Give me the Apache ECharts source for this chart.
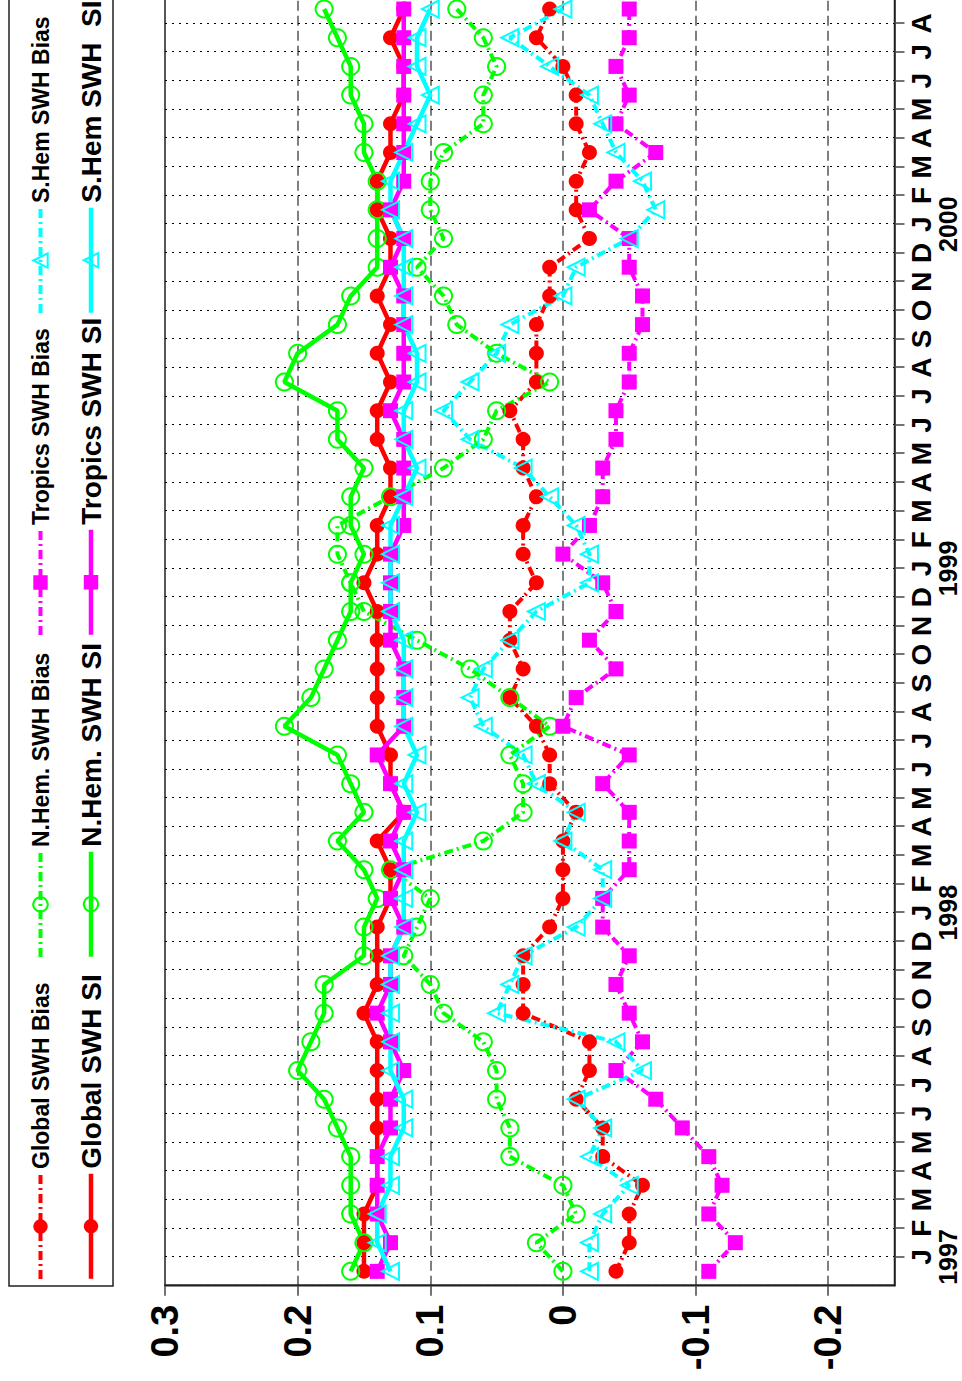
<!DOCTYPE html>
<html>
<head>
<meta charset="utf-8">
<script src="https://cdn.jsdelivr.net/npm/echarts@6/dist/echarts.min.js"></script>
<style>
  html, body { margin: 0; padding: 0; background: #fff; overflow: hidden; width: 962px; height: 1381px; }
  /* The chart is laid out in landscape and turned a quarter turn counter-clockwise. */
  #chart {
    position: absolute; left: 0; top: 0;
    width: 1500px; height: 962px;
    transform-origin: 0 0;
    transform: translate(0px, 1381px) rotate(-90deg);
  }
</style>
</head>
<body>
<div id="chart"></div>
<script>
// Monthly wave-height statistics, one sample per month (45 samples),
// plotted midway between the monthly ticks.
const monthInitials = ['J', 'F', 'M', 'A', 'M', 'J', 'J', 'A', 'S', 'O', 'N', 'D'];
const firstYear = 1997;
const lastLabelledMonth = 43;            // Aug 2000
const valueTicks = [-0.2, -0.1, 0, 0.1, 0.2, 0.3];

const globalBias = [-0.04, -0.05, -0.05, -0.06, -0.03, -0.03, -0.01, -0.02, -0.02,
  0.03, 0.03, 0.03, 0.01, 0.00, 0.00, 0.00, -0.01, 0.01, 0.01,
  0.02, 0.04, 0.03, 0.04, 0.04, 0.02, 0.03, 0.03, 0.02, 0.03,
  0.03, 0.04, 0.02, 0.02, 0.02, 0.01, 0.01, -0.02, -0.01, -0.01,
  -0.02, -0.01, -0.01, 0.00, 0.02, 0.01];
const globalSI = [0.15, 0.15, 0.15, 0.14, 0.14, 0.14, 0.14, 0.14, 0.14,
  0.15, 0.14, 0.14, 0.14, 0.13, 0.13, 0.14, 0.12, 0.13, 0.13,
  0.14, 0.14, 0.14, 0.14, 0.14, 0.15, 0.14, 0.14, 0.13, 0.13,
  0.14, 0.14, 0.13, 0.14, 0.13, 0.14, 0.13, 0.13, 0.14, 0.14,
  0.13, 0.13, 0.12, 0.12, 0.13, 0.12];
const nhemBias = [0.00, 0.02, -0.01, 0.00, 0.04, 0.04, 0.05, 0.05, 0.06,
  0.09, 0.10, 0.12, 0.11, 0.10, 0.13, 0.06, 0.03, 0.03, 0.04,
  0.01, 0.04, 0.07, 0.11, 0.15, 0.16, 0.17, 0.17, 0.13, 0.09,
  0.06, 0.05, 0.01, 0.05, 0.08, 0.09, 0.11, 0.09, 0.10, 0.10,
  0.09, 0.06, 0.06, 0.05, 0.06, 0.08];
const nhemSI = [0.16, 0.15, 0.16, 0.16, 0.16, 0.17, 0.18, 0.20, 0.19,
  0.18, 0.18, 0.15, 0.15, 0.14, 0.15, 0.17, 0.15, 0.16, 0.17,
  0.21, 0.19, 0.18, 0.17, 0.16, 0.16, 0.15, 0.16, 0.16, 0.15,
  0.17, 0.17, 0.21, 0.20, 0.17, 0.16, 0.14, 0.14, 0.14, 0.14,
  0.15, 0.15, 0.16, 0.16, 0.17, 0.18];
const tropicsBias = [-0.11, -0.13, -0.11, -0.12, -0.11, -0.09, -0.07, -0.04, -0.06,
  -0.05, -0.04, -0.05, -0.03, -0.03, -0.05, -0.05, -0.05, -0.03, -0.05,
  0.00, -0.01, -0.04, -0.02, -0.04, -0.03, 0.00, -0.02, -0.03, -0.03,
  -0.04, -0.04, -0.05, -0.05, -0.06, -0.06, -0.05, -0.05, -0.02, -0.04,
  -0.07, -0.04, -0.05, -0.04, -0.05, -0.05];
const tropicsSI = [0.14, 0.13, 0.14, 0.14, 0.14, 0.13, 0.13, 0.12, 0.13,
  0.14, 0.13, 0.13, 0.12, 0.13, 0.12, 0.13, 0.12, 0.13, 0.14,
  0.12, 0.12, 0.12, 0.13, 0.13, 0.13, 0.13, 0.12, 0.12, 0.12,
  0.12, 0.13, 0.12, 0.12, 0.12, 0.12, 0.13, 0.12, 0.13, 0.12,
  0.12, 0.12, 0.12, 0.12, 0.12, 0.12];
const shemBias = [-0.02, -0.02, -0.03, -0.05, -0.02, -0.03, -0.01, -0.06, -0.04,
  0.05, 0.04, 0.03, -0.01, -0.03, -0.03, 0.00, -0.01, 0.02, 0.03,
  0.06, 0.07, 0.06, 0.04, 0.02, -0.02, -0.02, -0.01, 0.01, 0.03,
  0.07, 0.09, 0.07, 0.05, 0.04, 0.00, -0.01, -0.05, -0.07, -0.06,
  -0.04, -0.03, -0.02, 0.01, 0.04, 0.00];
const shemSI = [0.13, 0.14, 0.14, 0.13, 0.13, 0.12, 0.12, 0.13, 0.13,
  0.13, 0.13, 0.13, 0.12, 0.12, 0.12, 0.12, 0.11, 0.12, 0.11,
  0.12, 0.12, 0.12, 0.12, 0.13, 0.13, 0.13, 0.13, 0.12, 0.11,
  0.12, 0.12, 0.11, 0.11, 0.12, 0.12, 0.12, 0.12, 0.13, 0.13,
  0.12, 0.11, 0.10, 0.11, 0.11, 0.10];

const seriesNames = [
  'Global SWH Bias', 'Global SWH SI',
  'N.Hem. SWH Bias', 'N.Hem. SWH SI',
  'Tropics SWH Bias', 'Tropics SWH SI',
  'S.Hem SWH Bias', 'S.Hem SWH  SI'
];

const RED = '#ff0000', GREEN = '#00ff00', MAGENTA = '#ff00ff', CYAN = '#00ffff';
const DASH_DOT = [9, 4, 2, 4];
const BIAS_WIDTH = 4, SI_WIDTH = 4.5;

// Sample i sits half a month before tick i (tick 0 = January 1997).
function toPoints(values) {
  return values.map((v, i) => [i - 0.5, v]);
}

function lineStyleFor(color, bias) {
  return { color: color, width: bias ? BIAS_WIDTH : SI_WIDTH, type: bias ? DASH_DOT : 'solid' };
}
function itemStyleFor(color, hollow) {
  return hollow
    ? { color: 'rgba(0,0,0,0)', borderColor: color, borderWidth: 2 }
    : { color: color, borderWidth: 0 };
}

const seriesSpecs = [
  { values: globalBias, color: RED, bias: true, symbol: 'circle', size: 15, hollow: false },
  { values: globalSI, color: RED, bias: false, symbol: 'circle', size: 15, hollow: false },
  { values: nhemBias, color: GREEN, bias: true, symbol: 'circle', size: 17, hollow: true },
  { values: nhemSI, color: GREEN, bias: false, symbol: 'circle', size: 17, hollow: true },
  { values: tropicsBias, color: MAGENTA, bias: true, symbol: 'rect', size: 15, hollow: false },
  { values: tropicsSI, color: MAGENTA, bias: false, symbol: 'rect', size: 15, hollow: false },
  { values: shemBias, color: CYAN, bias: true, symbol: 'triangle', size: 17, hollow: true },
  { values: shemSI, color: CYAN, bias: false, symbol: 'triangle', size: 17, hollow: true }
];

const series = seriesSpecs.map((s, k) => ({
  name: seriesNames[k],
  type: 'line',
  data: toPoints(s.values),
  symbol: s.symbol,
  symbolSize: s.size,
  showAllSymbol: true,
  lineStyle: lineStyleFor(s.color, s.bias),
  itemStyle: itemStyleFor(s.color, s.hollow),
  emphasis: { disabled: true },
  animation: false
}));

// Legend: two rows (bias / scatter index), four columns.
const legendColumns = [100, 422, 744, 1066];
const legendRows = [{ top: 29, size: 23 }, { top: 77, size: 28 }];
const legends = seriesNames.map((name, k) => {
  const col = Math.floor(k / 2), row = legendRows[k % 2], s = seriesSpecs[k];
  return {
    data: [name],
    left: legendColumns[col],
    top: row.top,
    padding: 0,
    itemWidth: 105,
    itemHeight: 18,
    itemGap: 0,
    selectedMode: false,
    lineStyle: lineStyleFor(s.color, s.bias),
    itemStyle: itemStyleFor(s.color, s.hollow),
    textStyle: {
      color: '#000', fontFamily: 'Liberation Sans, Arial, sans-serif',
      fontWeight: 'bold', fontSize: row.size, lineHeight: 18
    }
  };
});

const chart = echarts.init(document.getElementById('chart'), null, { renderer: 'svg' });
chart.setOption({
  backgroundColor: '#fff',
  animation: false,
  legend: legends,
  graphic: [{
    type: 'rect',
    shape: { x: 95, y: 9, width: 1500, height: 104 },
    style: { fill: 'none', stroke: '#222', lineWidth: 1.5 },
    silent: true
  }],
  grid: {
    left: 95.3, right: 85, top: 165, bottom: 67.5,
    show: true, borderColor: '#222', borderWidth: 1.5, backgroundColor: 'transparent'
  },
  xAxis: {
    type: 'value',
    min: -1, max: 45, interval: 1,
    axisLine: { show: true, onZero: false, lineStyle: { color: '#222', width: 1.5 } },
    axisTick: { show: true, inside: false, length: 10, lineStyle: { color: '#444', width: 1.5 } },
    splitLine: { show: true, lineStyle: { color: '#000', width: 1, type: [2, 5] } },
    axisLabel: {
      margin: 12,
      interval: 0,
      showMinLabel: false, showMaxLabel: false,
      formatter: function (v) {
        const m = Math.round(v);
        if (m < 0 || m > lastLabelledMonth) return '';
        const letter = monthInitials[m % 12];
        if (m % 12 === 0) return '{m|' + letter + '}\n{y|' + (firstYear + m / 12) + '}';
        return '{m|' + letter + '}';
      },
      rich: {
        m: { fontFamily: 'Liberation Sans, Arial, sans-serif', fontWeight: 'bold', fontSize: 28, lineHeight: 29, color: '#000' },
        y: { fontFamily: 'Liberation Sans, Arial, sans-serif', fontWeight: 'bold', fontSize: 25, lineHeight: 24, color: '#000' }
      }
    }
  },
  yAxis: {
    type: 'value',
    min: -0.25, max: 0.3,
    axisLine: { show: true, onZero: false, lineStyle: { color: '#222', width: 1.5 } },
    axisTick: { show: true, inside: false, length: 10, customValues: valueTicks, lineStyle: { color: '#444', width: 1.5 } },
    splitLine: { show: true, lineStyle: { color: '#555', width: 1.5, type: [10, 5] } },
    axisLabel: {
      customValues: valueTicks,
      margin: 19,
      fontFamily: 'Liberation Sans, Arial, sans-serif',
      fontWeight: 'bold', fontSize: 38, color: '#000',
      formatter: function (v) { return String(Math.round(v * 10) / 10); }
    }
  },
  series: series
});
</script>
</body>
</html>
